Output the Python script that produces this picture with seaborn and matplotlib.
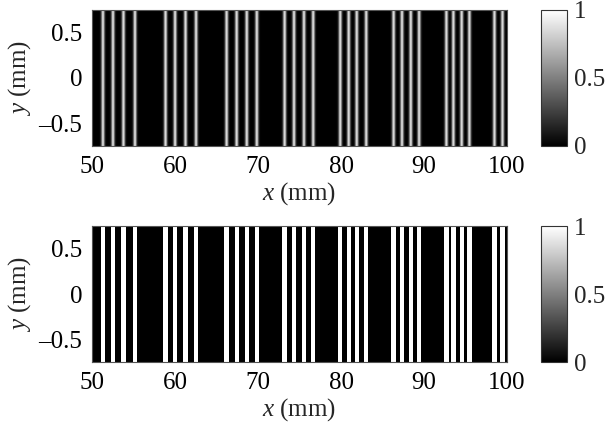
import numpy as np
import pandas as pd
import seaborn as sns
import matplotlib
matplotlib.use("Agg")
import matplotlib.pyplot as plt

# Bright-fringe centres along x (mm)
stripe_centres_mm = [51.29, 52.50, 53.76, 55.15,
                     58.83, 59.98, 61.24, 62.51,
                     66.19, 67.40, 68.62, 69.83,
                     73.18, 74.31, 75.51, 76.62,
                     79.88, 80.90, 81.87, 83.01,
                     86.31, 87.32, 88.38, 89.38,
                     92.67, 93.51, 94.51, 95.44,
                     98.46, 99.43]
x_range_mm = (50.0, 100.0)
y_range_mm = (-0.75, 0.75)
x_ticks = [50, 60, 70, 80, 90, 100]
x_tick_labels = ["50", "60", "70", "80", "90", "100"]
y_ticks = [0.5, 0.0, -0.5]
y_tick_labels = ["0.5", "0", "\u20130.5"]
cbar_ticks = [0, 0.5, 1]
cbar_tick_labels = ["0", "0.5", "1"]

# fringe shape parameters
smooth_peak = 0.85
smooth_sigma_mm = 0.15
bar_width_mm = 0.52

sns.set_theme(style="white")
plt.rcParams["font.family"] = ["Liberation Serif", "DejaVu Serif"]
plt.rcParams["mathtext.fontset"] = "custom"
plt.rcParams["mathtext.rm"] = "Liberation Serif"
plt.rcParams["mathtext.it"] = "Liberation Serif:italic"
FS = 18

nx, ny = 830, 4
x_cells = np.linspace(*x_range_mm, nx + 1)
x_mid = 0.5 * (x_cells[:-1] + x_cells[1:])
y_mid = np.linspace(y_range_mm[1], y_range_mm[0], ny)
centres = np.asarray(stripe_centres_mm)

d = x_mid[None, :] - centres[:, None]
smooth_profile = smooth_peak * np.exp(-0.5 * (d / smooth_sigma_mm) ** 2).max(axis=0)
binary_profile = (np.abs(d) <= bar_width_mm / 2).any(axis=0).astype(float)

smooth_df = pd.DataFrame(np.tile(smooth_profile, (ny, 1)), index=y_mid, columns=x_mid)
binary_df = pd.DataFrame(np.tile(binary_profile, (ny, 1)), index=y_mid, columns=x_mid)


def x_pos(v):
    return (v - x_range_mm[0]) / (x_range_mm[1] - x_range_mm[0]) * nx


def y_pos(v):
    return (y_range_mm[1] - v) / (y_range_mm[1] - y_range_mm[0]) * ny


W, H = 609, 444
fig = plt.figure(figsize=(W / 100, H / 100), dpi=100)


def panel(df, top_px):
    ax = fig.add_axes([92 / W, 1 - (top_px + 136) / H, 415 / W, 136 / H])
    cax = fig.add_axes([541 / W, 1 - (top_px + 136) / H, 26 / W, 136 / H])
    sns.heatmap(df, ax=ax, cbar_ax=cax, cmap="gray", vmin=0, vmax=1,
                xticklabels=False, yticklabels=False, rasterized=True)
    ax.set_xticks([x_pos(v) for v in x_ticks])
    ax.set_xticklabels(x_tick_labels, fontsize=FS, rotation=0)
    ax.set_yticks([y_pos(v) for v in y_ticks])
    ax.set_yticklabels(y_tick_labels, fontsize=FS, rotation=0)
    ax.tick_params(length=0, pad=7, colors="black")
    ax.set_xlabel(r"$x$ (mm)", fontsize=FS, labelpad=2)
    ax.set_ylabel(r"$y$ (mm)", fontsize=FS, labelpad=4)
    for s in ax.spines.values():
        s.set_visible(True)
        s.set_linewidth(0.8)
        s.set_color("#555555")
    cb = ax.collections[0].colorbar
    cb.outline.set_linewidth(0.8)
    cb.outline.set_edgecolor("#333333")
    cb.set_ticks(cbar_ticks)
    cb.set_ticklabels(cbar_tick_labels)
    cax.tick_params(length=0, pad=5, labelsize=FS)
    return ax


panel(smooth_df, 10)
panel(binary_df, 226)

fig.savefig("out.png", dpi=100, facecolor="white")
